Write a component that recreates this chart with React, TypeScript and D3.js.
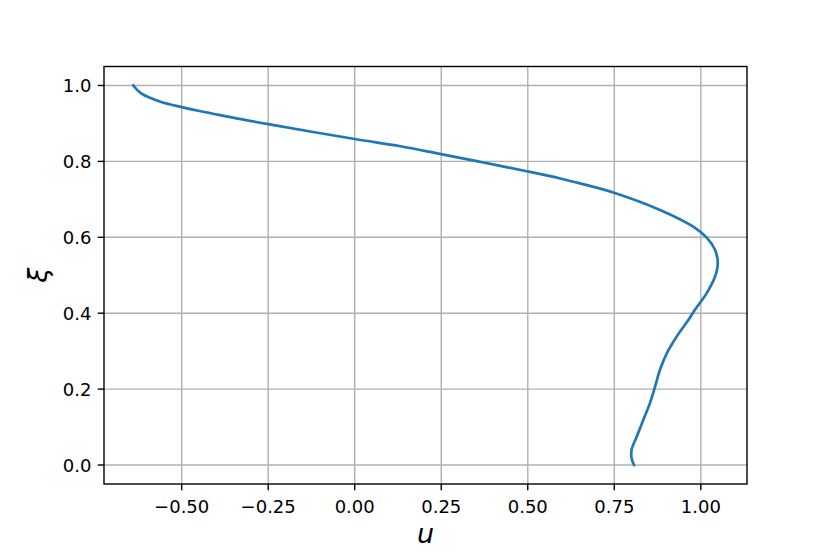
import React from "react";
import * as d3 from "d3";

// velocity profile u(xi)
const uValues = [
  -0.64, -0.617, -0.561, -0.5, -0.445, -0.378, -0.25, 0.0, 0.132, 0.249, 0.372,
  0.497, 0.594, 0.651, 0.747, 0.882, 0.978, 1.017, 1.041, 1.049, 1.041, 1.017,
  0.983, 0.964, 0.93, 0.902, 0.882, 0.868, 0.853, 0.834, 0.815, 0.8, 0.8, 0.807,
];
const xiValues = [
  1.0, 0.979, 0.957, 0.943, 0.932, 0.92, 0.898, 0.859, 0.84, 0.819, 0.797,
  0.774, 0.755, 0.742, 0.718, 0.672, 0.628, 0.599, 0.567, 0.532, 0.496, 0.453,
  0.409, 0.382, 0.338, 0.295, 0.251, 0.207, 0.163, 0.119, 0.075, 0.04, 0.018, 0.0,
];
const xTicks = [-0.5, -0.25, 0, 0.25, 0.5, 0.75, 1.0];
const yTicks = [0, 0.2, 0.4, 0.6, 0.8, 1.0];

const W = 830;
const H = 554;
const left = 104;
const right = 747;
const top = 66.5;
const bottom = 484;

function padded(vals: number[]): [number, number] {
  const [a, b] = d3.extent(vals) as [number, number];
  const m = (b - a) * 0.05;
  return [a - m, b + m];
}

export default function App() {
  const x = d3.scaleLinear().domain(padded(uValues)).range([left, right]);
  const y = d3.scaleLinear().domain(padded(xiValues)).range([bottom, top]);

  const pts = uValues.map((u, i) => [u, xiValues[i]] as [number, number]);
  const path = d3
    .line<[number, number]>()
    .x((d) => x(d[0]))
    .y((d) => y(d[1]))
    .curve(d3.curveCatmullRom.alpha(0.5))(pts);

  const font = "'DejaVu Sans', sans-serif";
  const fmtX = (v: number) => d3.format(".2f")(v).replace("-", "\u2212");
  const fmtY = (v: number) => d3.format(".1f")(v);

  return (
    <svg
      width={W}
      height={H}
      style={{ position: "absolute", left: 0, top: 0, background: "#fff" }}
    >
      <defs>
        <clipPath id="plotclip">
          <rect x={left} y={top} width={right - left} height={bottom - top} />
        </clipPath>
      </defs>
      <g clipPath="url(#plotclip)">
        {xTicks.map((t) => (
          <line key={"gx" + t} x1={x(t)} x2={x(t)} y1={top} y2={bottom} stroke="#b0b0b0" strokeWidth={1.4} />
        ))}
        {yTicks.map((t) => (
          <line key={"gy" + t} x1={left} x2={right} y1={y(t)} y2={y(t)} stroke="#b0b0b0" strokeWidth={1.4} />
        ))}
      </g>
      <path d={path ?? ""} fill="none" stroke="#1f77b4" strokeWidth={2.7} strokeLinecap="square" clipPath="url(#plotclip)" />
      <rect x={left} y={top} width={right - left} height={bottom - top} fill="none" stroke="#000" strokeWidth={1.4} />

      {xTicks.map((t) => (
        <g key={"tx" + t}>
          <line x1={x(t)} x2={x(t)} y1={bottom} y2={bottom + 6.3} stroke="#000" strokeWidth={1.4} />
          <text x={x(t)} y={bottom + 29} textAnchor="middle" fontFamily={font} fontSize={18}>
            {fmtX(t)}
          </text>
        </g>
      ))}
      {yTicks.map((t) => (
        <g key={"ty" + t}>
          <line x1={left - 6.3} x2={left} y1={y(t)} y2={y(t)} stroke="#000" strokeWidth={1.4} />
          <text x={left - 12.6} y={y(t) + 6.6} textAnchor="end" fontFamily={font} fontSize={18}>
            {fmtY(t)}
          </text>
        </g>
      ))}

      <text x={(left + right) / 2} y={543} textAnchor="middle" fontFamily={font} fontSize={27} fontStyle="italic">
        u
      </text>
      <text
        transform={`translate(47, ${(top + bottom) / 2}) rotate(-90)`}
        textAnchor="middle"
        fontFamily={font}
        fontSize={27}
        fontStyle="italic"
      >
        ξ
      </text>
    </svg>
  );
}
